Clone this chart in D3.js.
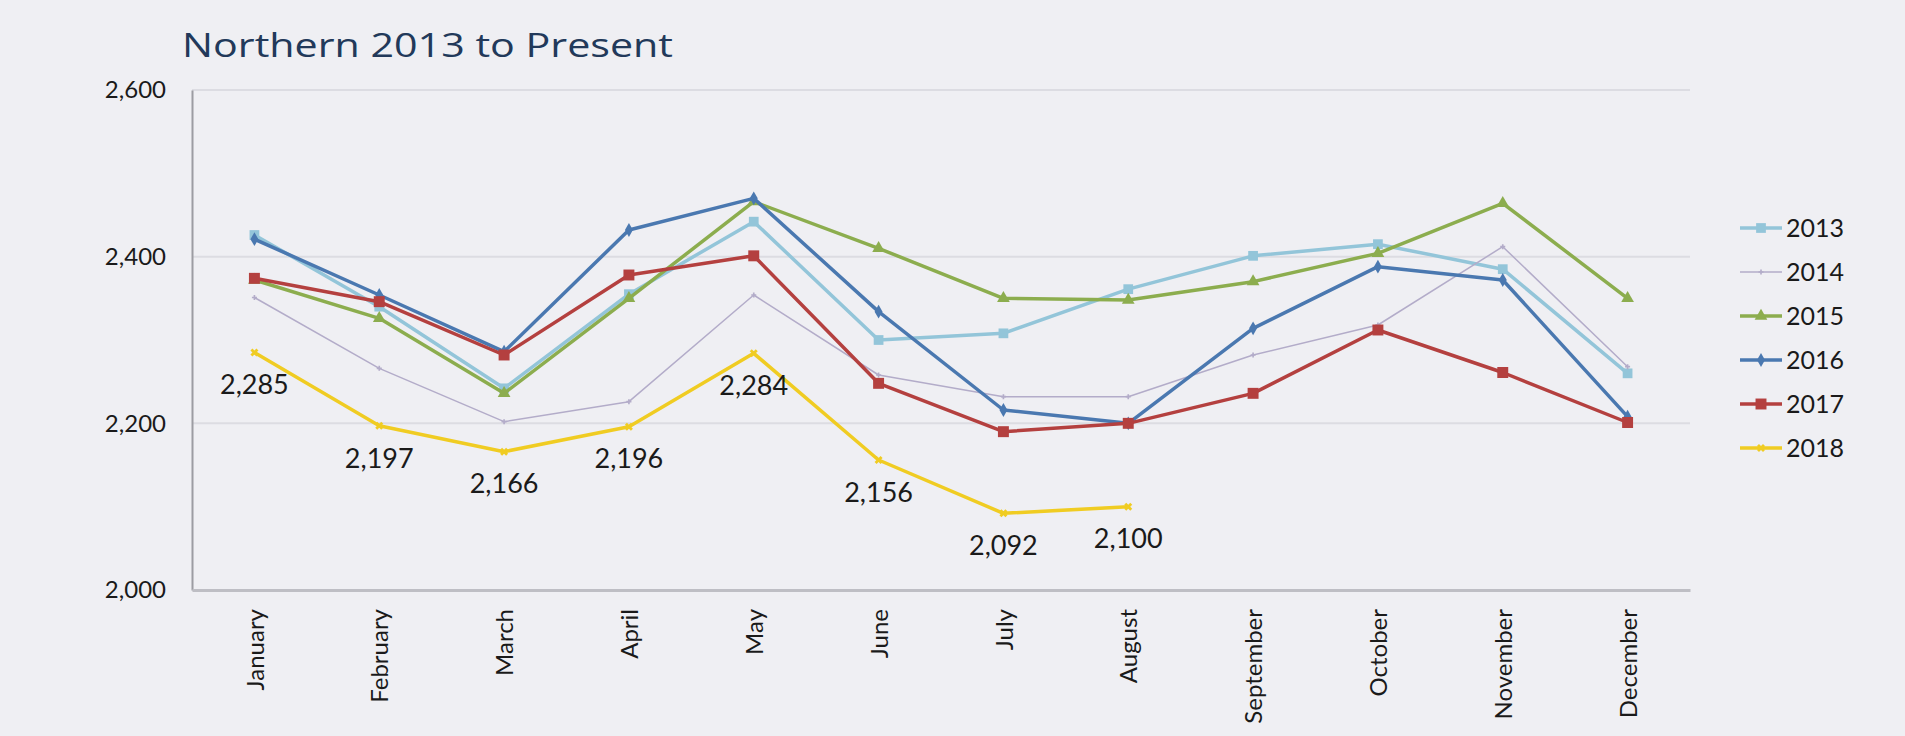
<!DOCTYPE html>
<html>
<head>
<meta charset="utf-8">
<script src="https://cdn.jsdelivr.net/npm/d3@7"></script>
<style>
  html, body { margin: 0; padding: 0; background: #EFEFF3; }
  svg { display: block; }
  text { font-family: Lato, "Open Sans", sans-serif; fill: #1a1a1a; }
</style>
</head>
<body>
<svg id="chart" width="1905" height="736"></svg>
<script>
const months = ["January","February","March","April","May","June","July","August","September","October","November","December"];
const years = ["2013","2014","2015","2016","2017","2018"];
const v2013 = [2426, 2340, 2242, 2355, 2442, 2300, 2308, 2361, 2401, 2415, 2385, 2260];
const v2014 = [2351, 2266, 2202, 2226, 2354, 2258, 2232, 2232, 2282, 2318, 2412, 2268];
const v2015 = [2372, 2326, 2236, 2350, 2466, 2410, 2350, 2348, 2370, 2404, 2464, 2350];
const v2016 = [2421, 2354, 2286, 2432, 2470, 2334, 2216, 2200, 2314, 2388, 2372, 2208];
const v2017 = [2374, 2346, 2282, 2378, 2401, 2248, 2190, 2200, 2236, 2312, 2261, 2201];
const v2018 = [2285, 2197, 2166, 2196, 2284, 2156, 2092, 2100];
const yTicks = [2000, 2200, 2400, 2600];
const title = "Northern 2013 to Present";

const seriesValues = [v2013, v2014, v2015, v2016, v2017, v2018];
const colors = ["#93C5D9", "#B3ACC9", "#8CAD4E", "#4A78B0", "#B4403F", "#F0CC22"];
const widths = [3.5, 1.5, 3.5, 3.5, 3.5, 3.5];
const symbols = [d3.symbolSquare, d3.symbolCross, d3.symbolTriangle, d3.symbolDiamond, d3.symbolSquare, d3.symbolCross];
const symSizes = [95, 14, 70, 55, 120, 40];
const symRot = [0, 0, 0, 0, 0, 45];

const svg = d3.select("#chart");
const x = d3.scalePoint().domain(months).range([192, 1690]).padding(0.5);
const y = d3.scaleLinear().domain([2000, 2600]).range([590, 90]);

// title
svg.append("text")
  .attr("x", 182).attr("y", 57)
  .attr("textLength", 491).attr("lengthAdjust", "spacingAndGlyphs")
  .style("font-family", "'Open Sans', sans-serif")
  .style("font-size", "33px")
  .style("fill", "#22395A")
  .text(title);

// gridlines
svg.append("g").selectAll("line")
  .data(yTicks.filter(d => d > 2000))
  .join("line")
  .attr("x1", 192).attr("x2", 1690)
  .attr("y1", d => y(d)).attr("y2", d => y(d))
  .attr("stroke", "#DCDCE2").attr("stroke-width", 2);

// y axis
const yAxis = svg.append("g").attr("transform", "translate(192,0)")
  .call(d3.axisLeft(y).tickValues(yTicks).tickFormat(d3.format(",")).tickSize(0).tickSizeOuter(0).tickPadding(26));
yAxis.select(".domain").attr("stroke", "#9C9CA2").attr("stroke-width", 2);
yAxis.selectAll("text").style("font-size", "24px").style("font-family", "Lato, sans-serif").style("fill", "#1a1a1a");

// x axis
const xAxis = svg.append("g").attr("transform", "translate(0,590)")
  .call(d3.axisBottom(x).tickSize(0).tickSizeOuter(0));
xAxis.select(".domain").attr("stroke", "#BEBEC4").attr("stroke-width", 3);
xAxis.selectAll("text")
  .attr("transform", "rotate(-90)")
  .attr("x", -19).attr("y", 0).attr("dy", "0.36em")
  .style("text-anchor", "end")
  .style("font-size", "24px").style("font-family", "Lato, sans-serif").style("fill", "#1a1a1a");

// lines
const line = d3.line().x((d, i) => x(months[i])).y(d => y(d));
seriesValues.forEach((vals, si) => {
  const g = svg.append("g");
  g.append("path")
    .datum(vals)
    .attr("d", line)
    .attr("fill", "none")
    .attr("stroke", colors[si])
    .attr("stroke-width", widths[si])
    .attr("stroke-linejoin", "round");
  g.selectAll("path.m")
    .data(vals)
    .join("path")
    .attr("class", "m")
    .attr("d", d3.symbol().type(symbols[si]).size(symSizes[si]))
    .attr("transform", (d, i) => `translate(${x(months[i])},${y(d)}) rotate(${symRot[si]})`)
    .attr("fill", colors[si]);
});

// 2018 data labels
svg.append("g").selectAll("text")
  .data(v2018)
  .join("text")
  .attr("x", (d, i) => x(months[i]))
  .attr("y", d => y(d) + 32)
  .attr("dy", "0.36em")
  .attr("text-anchor", "middle")
  .style("font-size", "27px")
  .text(d => d3.format(",")(d));

// legend
const leg = svg.append("g").attr("transform", "translate(1740,228)");
years.forEach((yr, i) => {
  const r = leg.append("g").attr("transform", `translate(0,${i * 44})`);
  r.append("line").attr("x1", 0).attr("x2", 42).attr("y1", 0).attr("y2", 0)
    .attr("stroke", colors[i]).attr("stroke-width", widths[i]);
  r.append("path")
    .attr("d", d3.symbol().type(symbols[i]).size(symSizes[i]))
    .attr("transform", `translate(21,0) rotate(${symRot[i]})`)
    .attr("fill", colors[i]);
  r.append("text").attr("x", 46).attr("y", 0).attr("dy", "0.36em")
    .style("font-size", "25px").text(yr);
});
</script>
</body>
</html>
